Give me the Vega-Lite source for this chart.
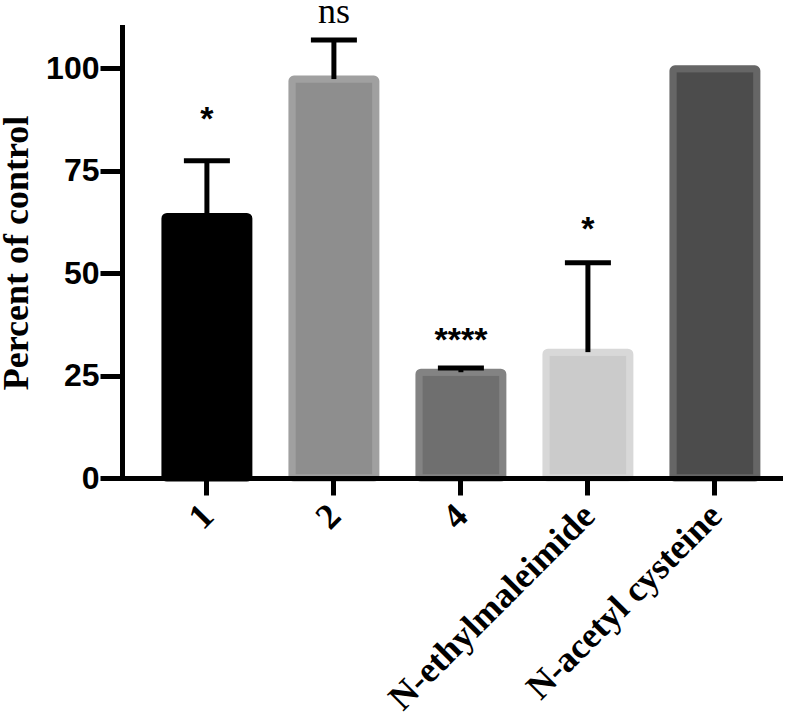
{
  "$schema": "https://vega.github.io/schema/vega-lite/v6.json",
  "width": 658,
  "height": 451,
  "autosize": "none",
  "padding": {"left": 122, "top": 27, "right": 20, "bottom": 246},
  "background": "white",
  "config": {"view": {"stroke": null}},
  "data": {
    "values": [
      {"group": "1", "mean": 63.8, "upper": 77.4, "sig": "*", "sigY": 85},
      {"group": "2", "mean": 97.3, "upper": 106.8, "sig": "ns", "sigY": 111},
      {"group": "4", "mean": 25.8, "upper": 26.8, "sig": "****", "sigY": 31},
      {"group": "N-ethylmaleimide", "mean": 30.7, "upper": 52.5, "sig": "*", "sigY": 58},
      {"group": "N-acetyl cysteine", "mean": 99.8, "upper": null, "sig": null, "sigY": null}
    ]
  },
  "encoding": {
    "x": {
      "field": "group",
      "type": "nominal",
      "sort": null,
      "scale": {"paddingInner": 0.339, "paddingOuter": 0.26, "align": 0.65},
      "axis": {
        "title": null,
        "labelAngle": -45,
        "labelAlign": "right",
        "labelBaseline": "middle",
        "labelLimit": 0,
        "labelFont": "Liberation Serif",
        "labelFontWeight": "bold",
        "labelFontSize": 36,
        "labelColor": "black",
        "labelPadding": 15,
        "labelOffset": 1,
        "tickSize": 17,
        "tickWidth": 5,
        "tickColor": "black",
        "domainWidth": 5,
        "domainColor": "black",
        "domainCap": "square",
        "grid": false,
        "zindex": 1
      }
    }
  },
  "layer": [
    {
      "mark": {"type": "bar", "strokeWidth": 7, "cornerRadius": 2},
      "encoding": {
        "y": {
          "field": "mean",
          "type": "quantitative",
          "scale": {"domain": [0, 110], "nice": false},
          "axis": {
            "values": [0, 25, 50, 75, 100],
            "title": "Percent of control",
            "titleFont": "Liberation Serif",
            "titleFontWeight": "bold",
            "titleFontSize": 36,
            "titleColor": "black",
            "titlePadding": 10,
            "labelFont": "Liberation Sans",
            "labelFontWeight": "bold",
            "labelFontSize": 32,
            "labelColor": "black",
            "labelPadding": 1,
            "tickSize": 22,
            "tickWidth": 5,
            "tickColor": "black",
            "domainWidth": 5,
            "domainColor": "black",
            "domainCap": "square",
            "grid": false,
            "zindex": 1
          }
        },
        "fill": {
          "field": "group",
          "type": "nominal",
          "scale": {
            "domain": ["1", "2", "4", "N-ethylmaleimide", "N-acetyl cysteine"],
            "range": ["#000000", "#8e8e8e", "#6f6f6f", "#cbcbcb", "#4c4c4c"]
          },
          "legend": null
        },
        "stroke": {
          "field": "group",
          "type": "nominal",
          "scale": {
            "domain": ["1", "2", "4", "N-ethylmaleimide", "N-acetyl cysteine"],
            "range": ["#000000", "#a0a0a0", "#838383", "#d8d8d8", "#666666"]
          },
          "legend": null
        }
      }
    },
    {
      "transform": [{"filter": "datum.upper != null"}],
      "mark": {"type": "rule", "strokeWidth": 5, "color": "black"},
      "encoding": {
        "y": {"field": "mean", "type": "quantitative"},
        "y2": {"field": "upper"}
      }
    },
    {
      "transform": [{"filter": "datum.upper != null"}],
      "mark": {"type": "tick", "size": 46, "thickness": 5, "color": "black", "opacity": 1},
      "encoding": {
        "y": {"field": "upper", "type": "quantitative"}
      }
    },
    {
      "transform": [{"filter": "datum.sig != null && datum.sig != 'ns'"}],
      "mark": {"type": "text", "font": "Liberation Sans", "fontWeight": "bold", "fontSize": 34, "baseline": "alphabetic", "color": "black"},
      "encoding": {
        "y": {"field": "sigY", "type": "quantitative"},
        "text": {"field": "sig"}
      }
    },
    {
      "transform": [{"filter": "datum.sig == 'ns'"}],
      "mark": {"type": "text", "font": "Liberation Serif", "fontSize": 36, "baseline": "alphabetic", "color": "black"},
      "encoding": {
        "y": {"field": "sigY", "type": "quantitative"},
        "text": {"field": "sig"}
      }
    }
  ]
}
